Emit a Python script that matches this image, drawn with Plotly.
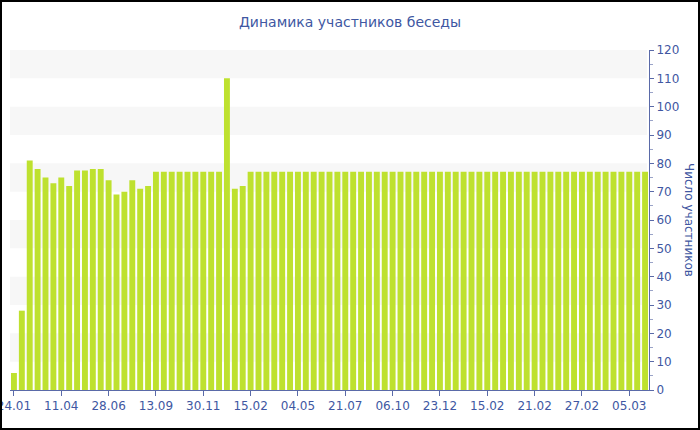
import plotly.graph_objects as go

# Data
participants = [
    6, 28, 81, 78, 75, 73, 75, 72, 77.5, 77.5,
    78, 78, 74, 69, 70, 74, 71, 72, 77, 77,
    77, 77, 77, 77, 77, 77, 77, 110, 71, 72,
    77, 77, 77, 77, 77, 77, 77, 77, 77, 77,
    77, 77, 77, 77, 77, 77, 77, 77, 77, 77,
    77, 77, 77, 77, 77, 77, 77, 77, 77, 77,
    77, 77, 77, 77, 77, 77, 77, 77, 77, 77,
    77, 77, 77, 77, 77, 77, 77, 77, 77, 77,
    77,
]
tick_labels = ["24.01", "11.04", "28.06", "13.09", "30.11", "15.02", "04.05",
               "21.07", "06.10", "23.12", "15.02", "21.02", "27.02", "05.03"]
tick_step = 6
band_ranges = [(10, 20), (30, 40), (50, 60), (70, 80), (90, 100), (110, 120)]

title_text = "Динамика участников беседы"
y_title = "Число участников"

blue = "#4057a2"
axis_blue = "#5a6aa8"
font = "DejaVu Sans"

x = list(range(len(participants)))
tickvals = [i * tick_step for i in range(len(tick_labels))]

L, R, T, B = 10, 51, 50, 40
W, H = 700, 430
pw, ph = W - L - R, H - T - B

fig = go.Figure()
fig.add_trace(go.Bar(
    x=x, y=participants,
    marker=dict(color="#bee12f", line=dict(width=0)),
    hoverinfo="y",
))

shapes = []
for lo, hi in band_ranges:
    shapes.append(dict(type="rect", xref="paper", yref="y", x0=0, x1=1 - 2 / pw,
                       y0=lo, y1=hi, fillcolor="#f7f7f7", line=dict(width=0),
                       layer="below"))

# outer frame around the whole picture
shapes.append(dict(type="rect", xref="paper", yref="paper",
                   x0=-L / pw + 1 / pw, x1=1 + R / pw - 1 / pw,
                   y0=-B / ph + 1 / ph, y1=1 + T / ph - 1 / ph,
                   line=dict(color="black", width=2), fillcolor="rgba(0,0,0,0)"))

fig.update_layout(
    width=W, height=H,
    margin=dict(l=L, r=R, t=T, b=B, autoexpand=False),
    paper_bgcolor="white", plot_bgcolor="white",
    showlegend=False,
    bargap=0.25,
    title=dict(text=title_text, x=0.5, xref="container", xanchor="center",
               y=1 - 22 / H, yanchor="middle", automargin=False,
               font=dict(family=font, size=14, color=blue)),
    xaxis=dict(
        range=[-0.5, len(participants) - 0.5],
        tickmode="array", tickvals=tickvals, ticktext=tick_labels,
        tickfont=dict(family=font, size=12, color=blue),
        showgrid=False, zeroline=False,
        showline=True, linecolor=axis_blue, linewidth=1,
        ticks="outside", ticklen=5, tickcolor=axis_blue,
        automargin=False, ticklabeloverflow="allow",
        fixedrange=True,
    ),
    yaxis=dict(
        side="right", range=[0, 120],
        tickmode="linear", tick0=0, dtick=10,
        tickfont=dict(family=font, size=12, color=blue),
        showgrid=False, zeroline=False,
        showline=True, linecolor=axis_blue, linewidth=1,
        ticks="outside", ticklen=4, tickcolor=axis_blue,
        minor=dict(ticks="outside", ticklen=3, dtick=5, tickcolor="#9aa3c8"),
        automargin=False, ticklabeloverflow="allow",
        fixedrange=True,
    ),
    shapes=shapes,
    annotations=[dict(text=y_title, xref="paper", yref="paper",
                      x=1 + 40 / pw, y=0.5, xanchor="center", yanchor="middle",
                      textangle=90, showarrow=False,
                      font=dict(family=font, size=12, color=blue))],
)

fig.write_html("out.html", config={"displayModeBar": False},
               post_script="document.body.style.margin='0';")
